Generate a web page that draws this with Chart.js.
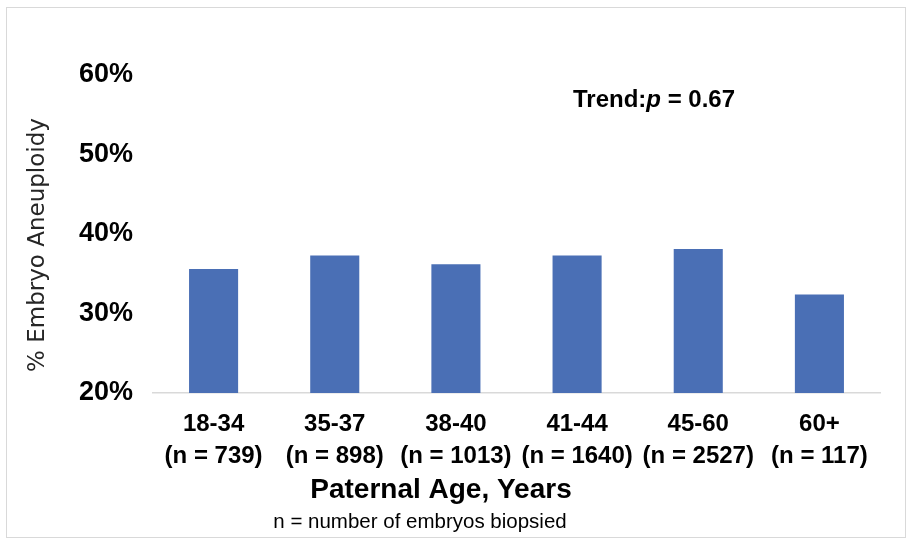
<!DOCTYPE html>
<html>
<head>
<meta charset="utf-8">
<script src="https://cdn.jsdelivr.net/npm/chart.js@4.4.1/dist/chart.umd.min.js"></script>
<style>
  body { margin: 0; background: #fff; }
  #wrap { width: 913px; height: 544px; }
</style>
</head>
<body>
<div id="wrap"><canvas id="chartAneuploidy" width="913" height="544"></canvas></div>
<script>
const ageGroups = ["18-34", "35-37", "38-40", "41-44", "45-60", "60+"];
const embryoCounts = [739, 898, 1013, 1640, 2527, 117];
const aneuploidyRates = [35.6, 37.3, 36.2, 37.3, 38.1, 32.4];
const yTicks = [20, 30, 40, 50, 60];

const labels = ageGroups.map((g, i) => [g, "(n = " + embryoCounts[i] + ")"]);

const extraText = {
  id: "extraText",
  afterDraw(chart) {
    const ctx = chart.ctx;
    ctx.save();

    // light frame round the picture
    ctx.strokeStyle = "#d9d9d9";
    ctx.lineWidth = 1;
    ctx.strokeRect(6.5, 7.5, 899, 530);

    ctx.fillStyle = "#000";
    ctx.textBaseline = "alphabetic";
    ctx.textAlign = "left";

    // Trend: p = 0.67
    let x = 573;
    const yBase = 107;
    ctx.font = "bold 24px 'Liberation Sans', Arial, sans-serif";
    ctx.fillText("Trend:", x, yBase);
    x += ctx.measureText("Trend:").width;
    ctx.font = "italic bold 24px 'Liberation Sans', Arial, sans-serif";
    ctx.fillText("p", x, yBase);
    x += ctx.measureText("p").width;
    ctx.font = "bold 24px 'Liberation Sans', Arial, sans-serif";
    ctx.fillText(" = 0.67", x, yBase);

    // x axis title
    ctx.textAlign = "center";
    ctx.textBaseline = "middle";
    ctx.font = "bold 28px 'Liberation Sans', Arial, sans-serif";
    ctx.fillText("Paternal Age, Years", 441, 490);

    // footnote
    ctx.font = "20.5px 'Liberation Sans', Arial, sans-serif";
    ctx.fillText("n = number of embryos biopsied", 420, 522);

    // y axis title
    ctx.translate(38, 245);
    ctx.rotate(-Math.PI / 2);
    ctx.fillStyle = "#262626";
    ctx.font = "23px 'DejaVu Sans', sans-serif";
    ctx.fillText("% Embryo Aneuploidy", 0, 0);

    ctx.restore();
  },
};

new Chart(document.getElementById("chartAneuploidy"), {
  type: "bar",
  data: {
    labels: labels,
    datasets: [
      {
        label: "% Embryo Aneuploidy",
        data: aneuploidyRates,
        backgroundColor: "#4a6fb5",
        borderColor: "#4a6fb5",
        categoryPercentage: 1,
        barPercentage: 0.405,
      },
    ],
  },
  options: {
    responsive: false,
    animation: false,
    layout: {
      padding: { top: 75, right: 33, left: 0, bottom: 0 },
    },
    plugins: {
      legend: { display: false },
      tooltip: { enabled: false },
    },
    scales: {
      x: {
        grid: { display: false, drawTicks: false },
        border: { display: true, color: "#d9d9d9", width: 1.5 },
        ticks: {
          color: "#000",
          padding: 15,
          maxRotation: 0,
          autoSkip: false,
          font: { family: "'Liberation Sans', Arial, sans-serif", size: 24, weight: "bold", lineHeight: 1.35 },
        },
        afterFit(scale) {
          scale.height = 151;
        },
      },
      y: {
        min: 20,
        max: 60,
        grid: { display: false, drawTicks: false },
        border: { display: false },
        afterBuildTicks(scale) {
          scale.ticks = yTicks.map((v) => ({ value: v }));
        },
        ticks: {
          color: "#000",
          padding: 20,
          font: { family: "'Liberation Sans', Arial, sans-serif", size: 27, weight: "bold" },
          callback: (v) => v + "%",
        },
        afterFit(scale) {
          scale.width = 153;
        },
      },
    },
  },
  plugins: [extraText],
});
</script>
</body>
</html>
